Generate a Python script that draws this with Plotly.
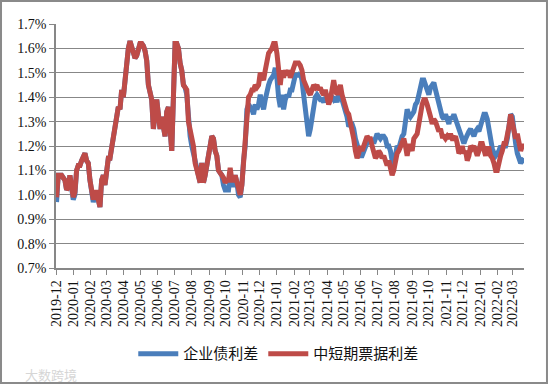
import pandas as pd
import plotly.graph_objects as go

# sample dates (every 3 days, 2019-12-02 .. 2022-03-21)
start_date = "2019-12-02"
n_points = 281
dates = pd.date_range(start_date, periods=n_points, freq="3D")

# 企业债利差 (%)
corp_spread = [
    0.97,1.08,1.08,1.08,1.07,1.06,1.02,1.03,1.08,1.02,
    0.98,1.00,1.10,1.12,1.12,1.14,1.16,1.17,1.14,1.13,
    1.06,1.01,0.97,1.00,1.01,0.98,0.95,1.06,1.08,1.04,
    1.10,1.15,1.15,1.19,1.25,1.29,1.31,1.36,1.35,1.43,
    1.40,1.48,1.52,1.60,1.63,1.61,1.59,1.56,1.57,1.59,
    1.62,1.62,1.61,1.59,1.55,1.45,1.41,1.39,1.27,1.36,
    1.39,1.33,1.27,1.32,1.28,1.24,1.34,1.36,1.27,1.18,
    1.40,1.62,1.62,1.60,1.54,1.51,1.45,1.44,1.41,1.28,
    1.24,1.20,1.17,1.13,1.10,1.06,1.05,1.13,1.05,1.08,
    1.13,1.17,1.20,1.24,1.23,1.18,1.16,1.10,1.09,1.08,
    1.04,1.02,1.02,1.02,1.08,1.04,1.04,1.08,1.05,1.00,
    0.99,1.04,1.14,1.20,1.35,1.37,1.36,1.35,1.33,1.37,
    1.35,1.37,
    1.41,1.38,1.35,1.39,1.43,1.45,1.47,1.48,1.49,1.52,
    1.48,1.40,1.36,1.41,1.35,1.39,1.41,1.40,1.43,1.43,
    1.47,1.49,1.49,1.49,1.50,1.47,1.41,1.35,1.29,1.24,
    1.27,1.32,1.38,1.40,1.41,1.40,1.39,1.39,1.38,1.40,
    1.39,1.39,1.41,1.40,1.39,1.40,1.38,1.41,1.42,1.39,
    1.37,1.35,1.32,1.28,1.29,1.29,1.27,1.23,1.20,1.17,
    1.16,1.16,1.18,1.20,1.21,1.23,1.22,1.23,1.21,1.23,
    1.25,1.24,1.23,1.24,1.24,1.23,1.20,1.20,1.18,1.14,
    1.12,1.16,1.20,1.19,1.23,1.24,1.25,1.29,1.35,1.33,
    1.32,1.33,1.34,1.37,1.38,1.41,1.44,1.47,1.47,1.45,
    1.43,1.41,1.44,1.45,1.46,1.43,1.40,1.36,1.34,1.32,
    1.31,1.33,1.31,1.29,1.32,1.31,1.33,1.31,1.28,1.27,
    1.24,1.23,1.21,1.23,1.25,1.26,1.27,1.25,1.24,1.26,
    1.27,1.26,1.28,1.30,1.33,1.33,1.31,1.27,1.21,1.19,
    1.17,1.16,1.17,1.18,1.20,1.19,1.20,1.20,1.23,1.28,
    1.33,1.32,1.24,1.21,1.17,1.14,1.13,1.14,1.15,
]

# 中短期票据利差 (%)
mtn_spread = [
    0.99,1.08,1.08,1.08,1.07,1.06,1.02,1.03,1.08,1.04,
    0.99,1.01,1.10,1.12,1.12,1.14,1.16,1.17,1.14,1.13,
    1.06,1.02,0.98,1.01,1.01,0.98,0.95,1.06,1.08,1.04,
    1.10,1.15,1.15,1.19,1.25,1.29,1.31,1.36,1.35,1.43,
    1.40,1.48,1.52,1.60,1.63,1.61,1.59,1.56,1.57,1.59,
    1.62,1.62,1.61,1.59,1.55,1.45,1.41,1.39,1.27,1.36,
    1.39,1.33,1.27,1.32,1.28,1.24,1.34,1.36,1.27,1.18,
    1.40,1.62,1.62,1.60,1.54,1.51,1.45,1.44,1.43,1.30,
    1.27,1.24,1.20,1.13,1.10,1.06,1.05,1.13,1.05,1.08,
    1.13,1.17,1.20,1.24,1.23,1.18,1.16,1.10,1.09,1.08,
    1.07,1.05,1.06,1.06,1.11,1.06,1.06,1.08,1.05,1.01,
    1.00,1.04,1.14,1.23,1.37,1.40,1.41,1.43,1.43,1.45,
    1.44,1.45,
    1.50,1.48,1.47,1.51,1.56,1.58,1.59,1.60,1.62,1.62,
    1.58,1.49,1.45,1.51,1.48,1.51,1.49,1.51,1.48,1.50,
    1.52,1.54,1.54,1.54,1.53,1.51,1.47,1.45,1.43,1.42,
    1.41,1.43,1.45,1.44,1.45,1.43,1.44,1.42,1.41,1.43,
    1.40,1.37,1.39,1.45,1.47,1.43,1.41,1.43,1.45,1.41,
    1.38,1.37,1.34,1.33,1.30,1.27,1.23,1.18,1.15,1.17,
    1.20,1.18,1.20,1.23,1.24,1.23,1.23,1.20,1.18,1.15,
    1.16,1.18,1.17,1.15,1.16,1.13,1.12,1.14,1.10,1.08,
    1.10,1.14,1.17,1.18,1.20,1.21,1.23,1.20,1.16,1.20,
    1.20,1.18,1.23,1.24,1.25,1.29,1.35,1.37,1.39,1.39,
    1.37,1.35,1.32,1.29,1.31,1.30,1.28,1.26,1.27,1.24,
    1.24,1.23,1.24,1.23,1.25,1.23,1.23,1.24,1.21,1.17,
    1.18,1.20,1.17,1.18,1.14,1.16,1.20,1.19,1.20,1.18,
    1.16,1.18,1.21,1.21,1.18,1.16,1.19,1.19,1.16,1.15,
    1.13,1.10,1.10,1.14,1.16,1.18,1.21,1.21,1.24,1.28,
    1.33,1.30,1.27,1.23,1.25,1.21,1.18,1.20,1.20,
]

series_names = ["企业债利差", "中短期票据利差"]
tick_months = pd.date_range("2019-12-01", "2022-03-01", freq="MS")
y_ticks = [0.7, 0.8, 0.9, 1.0, 1.1, 1.2, 1.3, 1.4, 1.5, 1.6, 1.7]
y_tick_labels = ["0.7%", "0.8%", "0.9%", "1.0%", "1.1%", "1.2%", "1.3%", "1.4%", "1.5%", "1.6%", "1.7%"]

BLUE = "#4a7ebb"
RED = "#be4b48"
GRID = "#878787"
serif = "Liberation Serif"
cjk = "Noto Sans CJK SC"

fig = go.Figure()
fig.add_trace(go.Scatter(x=dates, y=corp_spread, mode="lines", name=series_names[0],
                         line=dict(color=BLUE, width=5)))
fig.add_trace(go.Scatter(x=dates, y=mtn_spread, mode="lines", name=series_names[1],
                         line=dict(color=RED, width=5)))

fig.update_layout(
    width=549, height=385,
    margin=dict(l=56, r=25, t=24, b=117),
    paper_bgcolor="white", plot_bgcolor="white",
    showlegend=True,
    legend=dict(orientation="h", x=0.476, xanchor="center", y=-0.352, yanchor="middle",
                font=dict(family=cjk, size=15, color="#111111"),
                itemwidth=40, bgcolor="rgba(0,0,0,0)"),
    xaxis=dict(type="date", range=[dates[0] - pd.Timedelta(days=1), dates[-1]],
               tickvals=list(tick_months), tickformat="%Y-%m", tickangle=-90,
               ticks="outside", ticklen=5, tickcolor=GRID, showline=True, linecolor=GRID,
               linewidth=1.5, showgrid=False, zeroline=False,
               tickfont=dict(family=serif, size=14, color="#111111")),
    yaxis=dict(range=[0.7, 1.7], tickvals=y_ticks, ticktext=y_tick_labels,
               ticks="outside", ticklen=5, tickcolor=GRID, showline=True, linecolor=GRID,
               linewidth=1.5, showgrid=True, gridcolor=GRID, gridwidth=1.3, zeroline=False,
               tickfont=dict(family=serif, size=14, color="#111111")),
    shapes=[dict(type="rect", xref="paper", yref="paper",
                 x0=-0.1175, x1=1.0491, y0=-0.4713, y1=1.0943,
                 line=dict(color="#8a8a8a", width=2), fillcolor="rgba(0,0,0,0)", layer="above")],
    annotations=[dict(text="大数跨境", xref="paper", yref="paper", x=-0.07, y=-0.438,
                      xanchor="left", yanchor="middle", showarrow=False,
                      font=dict(family=cjk, size=13, color="#d6d6d6"))],
)

fig.write_html("out.html", config={"displayModeBar": False},
               post_script="document.body.style.margin='0';document.body.style.overflow='hidden';")
